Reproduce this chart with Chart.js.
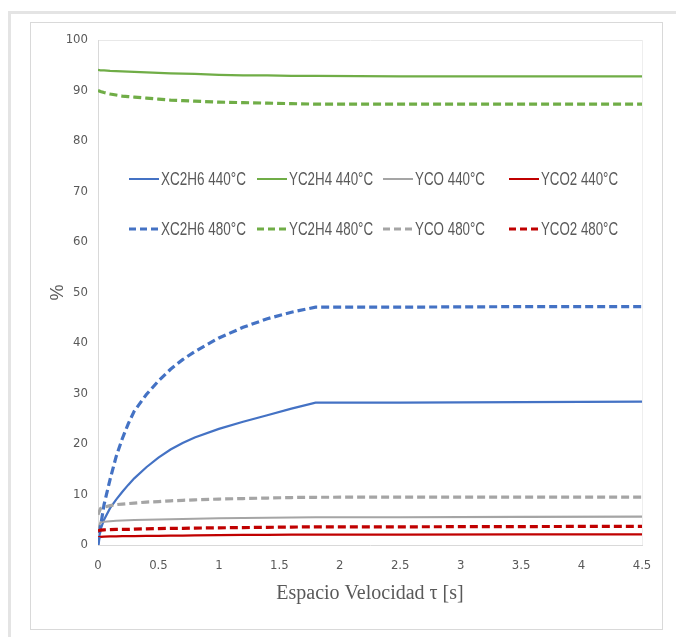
<!DOCTYPE html>
<html>
<head>
<meta charset="utf-8">
<script src="https://cdn.jsdelivr.net/npm/chart.js@4.4.1/dist/chart.umd.min.js"></script>
<style>
  html, body { margin: 0; padding: 0; background: #ffffff; }
  body { width: 676px; height: 637px; position: relative; overflow: hidden; }
  #outer { position: absolute; left: 8px; top: 11px; width: 700px; height: 700px; border: 3px solid #e4e4e4; box-sizing: border-box; }
  #inner { position: absolute; left: 30px; top: 22px; width: 633px; height: 608px; border: 1px solid #d9d9d9; box-sizing: border-box; }
  #c { position: absolute; left: 0; top: 0; }
  #legend { position: absolute; left: 129px; top: 167px; width: 520px; font-family: "Liberation Sans", Arial, sans-serif; font-size: 19px; color: #595959; }
  .item { position: absolute; display: flex; align-items: center; white-space: nowrap; height: 24px; }
  .item canvas { margin-right: 2px; flex: none; }
  .item span { display: inline-block; transform-origin: 0 50%; }
</style>
</head>
<body>
<div id="outer"></div>
<div id="inner"></div>
<canvas id="c" width="676" height="637"></canvas>
<div id="legend"></div>
<script>
// ---- data ----
const tau = [0, 0.02, 0.05, 0.1, 0.15, 0.2, 0.25, 0.3, 0.4, 0.5, 0.6, 0.7, 0.8, 1.0, 1.2, 1.4, 1.6, 1.8, 2.5, 3.5, 4.5];

const xC2H6_440 = [0, 3.0, 5.0, 7.3, 9.0, 10.5, 11.9, 13.2, 15.4, 17.3, 18.9, 20.2, 21.3, 23.0, 24.4, 25.7, 27.0, 28.2, 28.2, 28.3, 28.4];
const yC2H4_440 = [94.1, 94.0, 94.0, 93.9, 93.85, 93.8, 93.75, 93.7, 93.6, 93.5, 93.4, 93.35, 93.3, 93.1, 93.0, 93.0, 92.9, 92.9, 92.8, 92.8, 92.8];
const yCO_440   = [3.0, 4.5, 4.6, 4.7, 4.8, 4.85, 4.9, 4.95, 5.0, 5.05, 5.1, 5.15, 5.2, 5.3, 5.35, 5.4, 5.45, 5.5, 5.5, 5.55, 5.6];
const yCO2_440  = [1.5, 1.6, 1.65, 1.7, 1.7, 1.75, 1.75, 1.75, 1.8, 1.8, 1.85, 1.85, 1.9, 1.95, 2.0, 2.0, 2.05, 2.05, 2.05, 2.1, 2.1];

const xC2H6_480 = [0, 3.5, 8.0, 13.0, 17.5, 21.0, 24.0, 26.5, 29.8, 32.5, 34.8, 36.7, 38.3, 41.0, 43.1, 44.8, 46.1, 47.1, 47.1, 47.2, 47.2];
const yC2H4_480 = [90.0, 89.8, 89.6, 89.3, 89.1, 88.9, 88.8, 88.7, 88.5, 88.3, 88.1, 88.0, 87.9, 87.7, 87.6, 87.5, 87.4, 87.3, 87.3, 87.3, 87.3];
const yCO_480   = [6.0, 7.2, 7.5, 7.8, 8.0, 8.1, 8.2, 8.3, 8.5, 8.6, 8.75, 8.85, 8.95, 9.1, 9.2, 9.3, 9.4, 9.45, 9.5, 9.5, 9.5];
const yCO2_480  = [2.8, 2.95, 3.0, 3.05, 3.1, 3.1, 3.1, 3.15, 3.2, 3.25, 3.3, 3.3, 3.35, 3.4, 3.45, 3.5, 3.55, 3.6, 3.6, 3.65, 3.7];

const seriesLabels = ["XC2H6 440°C", "YC2H4 440°C", "YCO 440°C", "YCO2 440°C",
                      "XC2H6 480°C", "YC2H4 480°C", "YCO 480°C", "YCO2 480°C"];
const seriesValues = [xC2H6_440, yC2H4_440, yCO_440, yCO2_440, xC2H6_480, yC2H4_480, yCO_480, yCO2_480];
const seriesColors = ["#4472C4", "#70AD47", "#A5A5A5", "#C00000", "#4472C4", "#70AD47", "#A5A5A5", "#C00000"];
const seriesDashed = [false, false, false, false, true, true, true, true];

const yTicks = [0, 10, 20, 30, 40, 50, 60, 70, 80, 90, 100];
const xTicks = [0, 0.5, 1, 1.5, 2, 2.5, 3, 3.5, 4, 4.5];
const xTitle = "Espacio Velocidad τ [s]";
const yTitle = "%";

// pick a condensed face if one is installed
const probe = document.createElement('canvas').getContext('2d');
probe.font = '16px "DejaVu Sans"';
const wN = probe.measureText('XC2H6 440°C').width;
probe.font = 'condensed 16px "DejaVu Sans"';
const wC = probe.measureText('XC2H6 440°C').width;
const hasCond = wC < 0.95 * wN;
const tickFont = hasCond
  ? { family: '"DejaVu Sans"', weight: 'condensed', size: 13 }
  : { family: '"Liberation Sans", Arial, sans-serif', size: 12 };

const datasets = seriesLabels.map((lab, i) => ({
  label: lab,
  data: tau.map((t, k) => ({ x: t, y: seriesValues[i][k] })),
  borderColor: seriesColors[i],
  backgroundColor: seriesColors[i],
  borderWidth: seriesDashed[i] ? 3.2 : 2.2,
  borderDash: seriesDashed[i] ? [8, 4] : [],
  pointRadius: 0,
  fill: false,
  tension: 0,
  order: seriesDashed[i] ? 10 - i : 20 - i
}));

new Chart(document.getElementById('c'), {
  type: 'line',
  data: { datasets },
  options: {
    responsive: false,
    animation: false,
    devicePixelRatio: 1,
    layout: { padding: { left: 0, top: 40, right: 34, bottom: 22 } },
    plugins: { legend: { display: false }, tooltip: { enabled: false } },
    scales: {
      x: {
        type: 'linear', min: 0, max: 4.5,
        afterBuildTicks: s => { s.ticks = xTicks.map(v => ({ value: v })); },
        afterFit: s => { s.height = 70; },
        ticks: { color: '#595959', font: tickFont, padding: 13, maxRotation: 0,
                 callback: v => String(v) },
        grid: { drawTicks: false, color: ctx => (ctx.tick && ctx.tick.value === 4.5) ? '#eeeeee' : 'rgba(0,0,0,0)' },
        border: { color: '#d9d9d9', width: 1 },
        title: { display: true, text: xTitle, color: '#595959',
                 font: { family: '"Liberation Serif", "DejaVu Serif", serif', size: 20 },
                 padding: { top: 0, bottom: 9 } }
      },
      y: {
        type: 'linear', min: 0, max: 100,
        afterBuildTicks: s => { s.ticks = yTicks.map(v => ({ value: v })); },
        afterFit: s => { s.width = 98; },
        ticks: { color: '#595959', font: tickFont, padding: 10 },
        grid: { drawTicks: false, color: ctx => (ctx.tick && ctx.tick.value === 100) ? '#e8e8e8' : 'rgba(0,0,0,0)' },
        border: { color: '#d9d9d9', width: 1 },
        title: { display: true, text: yTitle, color: '#595959',
                 font: { family: '"Liberation Sans", Arial, sans-serif', size: 18 },
                 padding: { top: 47, bottom: 0 } }
      }
    }
  }
});

// HTML legend (two rows, four columns), built from the series arrays
const legend = document.getElementById('legend');
const colX = [0, 128, 254, 380];
const textW = [85, 84, 70, 77];
seriesLabels.forEach((lab, i) => {
  const row = Math.floor(i / 4), col = i % 4;
  const d = document.createElement('div');
  d.className = 'item';
  d.style.left = colX[col] + 'px';
  d.style.top = (row * 50) + 'px';
  const sw = document.createElement('canvas');
  sw.width = 30; sw.height = 6;
  const g = sw.getContext('2d');
  g.strokeStyle = seriesColors[i];
  g.lineWidth = seriesDashed[i] ? 3.2 : 2;
  if (seriesDashed[i]) g.setLineDash([7, 4]);
  g.beginPath(); g.moveTo(0, 3); g.lineTo(30, 3); g.stroke();
  d.appendChild(sw);
  const t = document.createElement('span');
  t.textContent = lab;
  d.appendChild(t);
  legend.appendChild(d);
  const w = t.getBoundingClientRect().width;
  if (w > 0) t.style.transform = 'scaleX(' + (textW[col] / w).toFixed(3) + ')';
});
</script>
</body>
</html>
